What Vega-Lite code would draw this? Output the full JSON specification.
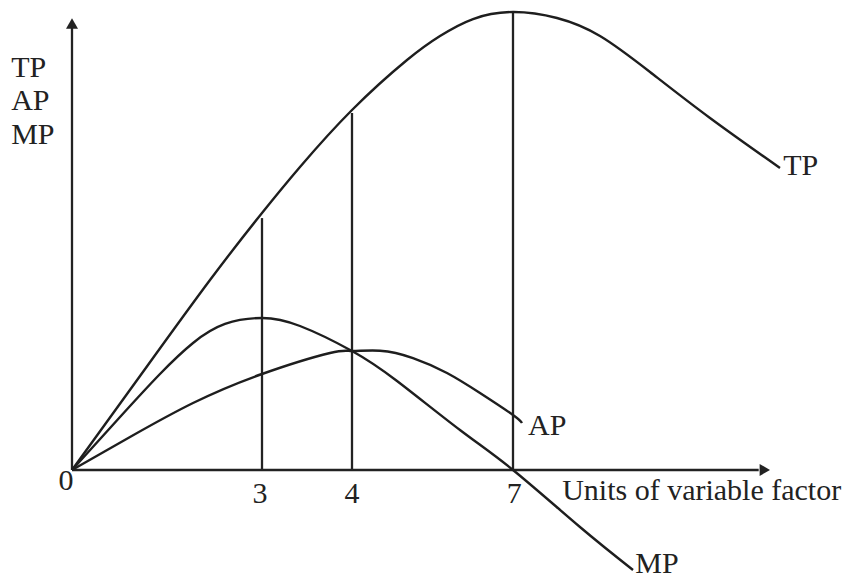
{
  "$schema": "https://vega.github.io/schema/vega-lite/v6.json",
  "width": 848,
  "height": 580,
  "autosize": "none",
  "padding": 0,
  "background": "white",
  "config": {"view": {"stroke": null}},
  "datasets": {
    "curves": [
      {"curve": "TP", "x": 0, "y": 0},
      {"curve": "TP", "x": 1.074, "y": 20.52},
      {"curve": "TP", "x": 2.179, "y": 41.48},
      {"curve": "TP", "x": 3, "y": 56.11},
      {"curve": "TP", "x": 3.422, "y": 66.16},
      {"curve": "TP", "x": 4, "y": 78.6},
      {"curve": "TP", "x": 5.025, "y": 89.52},
      {"curve": "TP", "x": 5.64, "y": 94.76},
      {"curve": "TP", "x": 6.255, "y": 98.47},
      {"curve": "TP", "x": 7, "y": 100},
      {"curve": "TP", "x": 7.698, "y": 98.69},
      {"curve": "TP", "x": 8.381, "y": 94.76},
      {"curve": "TP", "x": 9.175, "y": 86.9},
      {"curve": "TP", "x": 10.127, "y": 76.86},
      {"curve": "TP", "x": 11.238, "y": 65.94},
      {"curve": "MP", "x": 0, "y": 0},
      {"curve": "MP", "x": 0.758, "y": 11.57},
      {"curve": "MP", "x": 1.389, "y": 20.96},
      {"curve": "MP", "x": 1.911, "y": 27.73},
      {"curve": "MP", "x": 2.416, "y": 31.88},
      {"curve": "MP", "x": 3, "y": 33.19},
      {"curve": "MP", "x": 3.422, "y": 31.44},
      {"curve": "MP", "x": 4, "y": 25.98},
      {"curve": "MP", "x": 4.839, "y": 19.43},
      {"curve": "MP", "x": 6.012, "y": 8.73},
      {"curve": "MP", "x": 7, "y": 0},
      {"curve": "MP", "x": 8.063, "y": -12.45},
      {"curve": "MP", "x": 8.905, "y": -21.83},
      {"curve": "AP", "x": 0, "y": 0},
      {"curve": "AP", "x": 0.916, "y": 7.21},
      {"curve": "AP", "x": 1.911, "y": 14.63},
      {"curve": "AP", "x": 3, "y": 20.96},
      {"curve": "AP", "x": 3.756, "y": 25.55},
      {"curve": "AP", "x": 4, "y": 25.98},
      {"curve": "AP", "x": 4.522, "y": 26.05},
      {"curve": "AP", "x": 5.137, "y": 24.45},
      {"curve": "AP", "x": 5.77, "y": 21.18},
      {"curve": "AP", "x": 6.385, "y": 16.81},
      {"curve": "AP", "x": 7, "y": 12.01},
      {"curve": "AP", "x": 7.143, "y": 10.26}
    ],
    "drops": [
      {"x": 3, "y": 55.0},
      {"x": 4, "y": 77.95},
      {"x": 7, "y": 100}
    ],
    "axes": [
      {"axis": "y", "x": 0, "x2": 0, "y": 0, "y2": 96.5},
      {"axis": "x", "x": 0, "x2": 10.9, "y": 0, "y2": 0}
    ],
    "arrows": [
      {"axis": "y", "x": 0, "y": 97.49, "shape": "triangle-up"},
      {"axis": "x", "x": 10.997, "y": 0, "shape": "triangle-right"}
    ],
    "labelsLeft": [
      {"x": -0.96, "y": 85.81, "text": "TP"},
      {"x": -0.96, "y": 78.6, "text": "AP"},
      {"x": -0.96, "y": 71.18, "text": "MP"},
      {"x": 7.78, "y": -6.55, "text": "Units of variable factor"},
      {"x": 7.24, "y": 7.64, "text": "AP"},
      {"x": 8.94, "y": -22.49, "text": "MP"},
      {"x": 11.29, "y": 64.41, "text": "TP"}
    ],
    "labelsCenter": [
      {"x": -0.095, "y": -4.37, "text": "0"},
      {"x": 2.97, "y": -7.21, "text": "3"},
      {"x": 4, "y": -7.21, "text": "4"},
      {"x": 7.02, "y": -7.21, "text": "7"}
    ]
  },
  "layer": [
    {
      "data": {"name": "axes"},
      "mark": {"type": "rule", "color": "#222", "strokeWidth": 2.3},
      "encoding": {
        "x": {"field": "x", "type": "quantitative", "axis": null, "scale": {"type": "linear", "domain": [0, 3, 4, 7, 12], "range": [72, 262, 352, 513, 828], "nice": false, "zero": false}},
        "x2": {"field": "x2"},
        "y": {"field": "y", "type": "quantitative", "axis": null, "scale": {"domain": [-24.02, 102.62], "range": [580, 0], "nice": false, "zero": false}},
        "y2": {"field": "y2"}
      }
    },
    {
      "data": {"name": "drops"},
      "mark": {"type": "rule", "color": "#222", "strokeWidth": 2.3},
      "encoding": {
        "x": {"field": "x", "type": "quantitative", "axis": null},
        "y": {"field": "y", "type": "quantitative", "axis": null},
        "y2": {"datum": 0}
      }
    },
    {
      "data": {"name": "curves"},
      "mark": {"type": "line", "color": "#1e1e1e", "strokeWidth": 2.4, "interpolate": "natural"},
      "encoding": {
        "x": {"field": "x", "type": "quantitative", "axis": null},
        "y": {"field": "y", "type": "quantitative", "axis": null},
        "detail": {"field": "curve"}
      }
    },
    {
      "data": {"name": "arrows"},
      "mark": {"type": "point", "filled": true, "color": "#222", "size": 144, "opacity": 1},
      "encoding": {
        "x": {"field": "x", "type": "quantitative", "axis": null},
        "y": {"field": "y", "type": "quantitative", "axis": null},
        "shape": {"field": "shape", "type": "nominal", "scale": null, "legend": null}
      }
    },
    {
      "data": {"name": "labelsLeft"},
      "mark": {"type": "text", "align": "left", "baseline": "alphabetic", "font": "Liberation Serif", "fontSize": 30, "color": "#222"},
      "encoding": {
        "x": {"field": "x", "type": "quantitative", "axis": null},
        "y": {"field": "y", "type": "quantitative", "axis": null},
        "text": {"field": "text"}
      }
    },
    {
      "data": {"name": "labelsCenter"},
      "mark": {"type": "text", "align": "center", "baseline": "alphabetic", "font": "Liberation Serif", "fontSize": 30, "color": "#222"},
      "encoding": {
        "x": {"field": "x", "type": "quantitative", "axis": null},
        "y": {"field": "y", "type": "quantitative", "axis": null},
        "text": {"field": "text"}
      }
    }
  ]
}
